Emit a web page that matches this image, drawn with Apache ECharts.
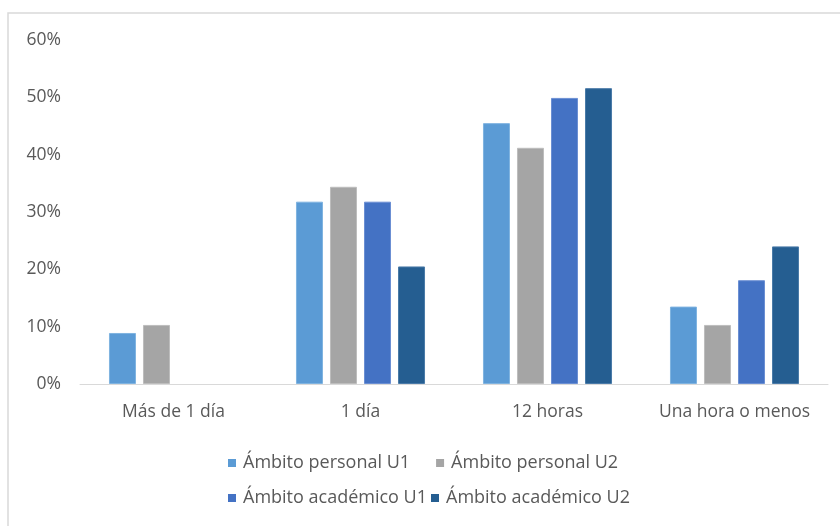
<!DOCTYPE html>
<html>
<head>
<meta charset="utf-8">
<script src="https://cdn.jsdelivr.net/npm/echarts@6/dist/echarts.min.js"></script>
<style>
html,body{margin:0;padding:0;background:#fff;}
#chart{width:840px;height:526px;}
</style>
</head>
<body>
<div id="chart"></div>
<script>
var categories = ['Más de 1 día', '1 día', '12 horas', 'Una hora o menos'];
var seriesNames = ['Ámbito personal U1', 'Ámbito personal U2', 'Ámbito académico U1', 'Ámbito académico U2'];
var personalU1 = [8.9, 31.8, 45.5, 13.5];
var personalU2 = [10.3, 34.4, 41.2, 10.3];
var academicoU1 = [null, 31.8, 49.9, 18.1];
var academicoU2 = [null, 20.5, 51.6, 24.0];
var yTicks = [0, 10, 20, 30, 40, 50, 60];
var colors = ['#5B9BD5', '#A5A5A5', '#4472C4', '#255E91'];
var borders = ['#7fb3e0', '#bdbdbd', '#6b8fd3', '#4a7aa8'];

var chart = echarts.init(document.getElementById('chart'));
var font = '"Open Sans", sans-serif';
var dataSets = [personalU1, personalU2, academicoU1, academicoU2];
var series = dataSets.map(function (d, i) {
  return {
    name: seriesNames[i],
    type: 'bar',
    data: d,
    barWidth: 27,
    barGap: '26%',
    itemStyle: { color: colors[i], borderColor: borders[i], borderWidth: 1 }
  };
});
var legendBase = {
  orient: 'horizontal',
  icon: 'rect',
  itemWidth: 8,
  itemHeight: 8,
  itemStyle: { borderWidth: 0 },
  textStyle: { color: '#595959', fontSize: 18, fontFamily: font, padding: [0, 0, 0, 2] }
};
chart.setOption({
  animation: false,
  backgroundColor: '#fff',
  color: colors,
  graphic: [{
    type: 'rect',
    shape: { x: 8, y: 13, width: 840, height: 530 },
    style: { fill: 'none', stroke: '#d9d9d9', lineWidth: 1.5 },
    silent: true
  }],
  grid: { left: 80, right: 12, top: 40, bottom: 142 },
  legend: [
    Object.assign({}, legendBase, { data: seriesNames.slice(0, 2), left: 223, top: 449, itemGap: 26 }),
    Object.assign({}, legendBase, { data: seriesNames.slice(2, 4), left: 223, top: 484, itemGap: 4 })
  ],
  xAxis: {
    type: 'category',
    data: categories,
    axisLine: { lineStyle: { color: '#d9d9d9', width: 1 } },
    axisTick: { show: false },
    axisLabel: { interval: 0, color: '#595959', fontSize: 17.5, fontFamily: font, margin: 19 }
  },
  yAxis: {
    type: 'value',
    min: yTicks[0],
    max: yTicks[yTicks.length - 1],
    interval: 10,
    splitLine: { show: false },
    axisLine: { show: false },
    axisTick: { show: false },
    axisLabel: { color: '#595959', fontSize: 17.5, fontFamily: font, margin: 19, formatter: '{value}%' }
  },
  series: series
});
</script>
</body>
</html>
